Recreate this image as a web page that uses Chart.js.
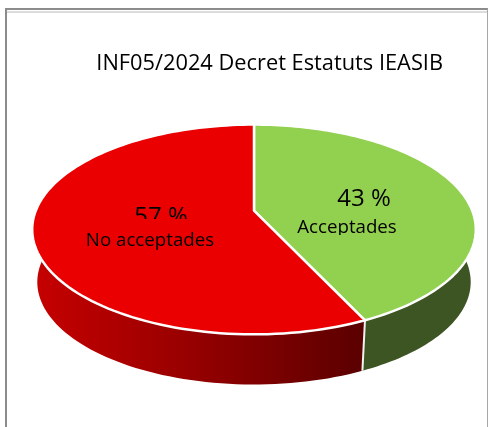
<!DOCTYPE html>
<html lang="ca">
<head>
    <meta charset="UTF-8">
    <title>INF05/2024 Decret Estatuts IEASIB</title>
    <script src="https://cdn.jsdelivr.net/npm/chart.js"></script>
    <style>
        html, body { margin: 0; padding: 0; background: #ffffff; overflow: hidden; }
        #wrap { position: relative; width: 489px; height: 427px; overflow: hidden; }
        #frame {
            position: absolute; left: 5px; top: 8px; width: 480px; height: 600px;
            border-left: 2px solid #8c8c8c; border-top: 2px solid #8c8c8c; border-right: 1px solid #a8a8a8;
        }
        #frame div { height: 2px; margin-top: 1px; background: #dcdcdc; }
        canvas { position: absolute; left: 0; top: 0; }
    </style>
</head>
<body>
    <div id="wrap">
        <div id="frame"><div></div></div>
        <canvas id="pie" width="489" height="427"></canvas>
    </div>

    <script>
        const titleText = 'INF05/2024 Decret Estatuts IEASIB';
        const categories = ['Acceptades', 'No acceptades'];
        const values = [43, 57];
        const topColors = ['#92d050', '#ea0000'];

        // the library lays out a round pie, this bends it into the tilted 3D view
        const view = { sx: 2.44, sy: 1.135, k: 0.18 };
        const wall = { drop: 53, shrink: 0.977 };

        // label placement, text is clipped at the bottom like the original
        const labelPos = [
            { pctX: 364, pctY: 199, pctClip: 240, nameX: 347, nameY: 228, nameClip: 235 },
            { pctX: 161, pctY: 217, pctClip: 219, nameX: 150, nameY: 241, nameClip: 260 }
        ];

        function project(arc, angle, depth) {
            const u = Math.cos(angle), v = Math.sin(angle);
            const w = 1 - view.k * v;
            const s = depth ? wall.shrink : 1;
            return {
                x: arc.x + arc.outerRadius * view.sx * s * u / w,
                y: arc.y + (depth ? wall.drop : 0) + arc.outerRadius * view.sy * s * v / w
            };
        }

        function rim(ctx, arc, from, to, depth, first) {
            const steps = 120;
            for (let i = 0; i <= steps; i++) {
                const p = project(arc, from + (to - from) * i / steps, depth);
                if (i === 0 && first) ctx.moveTo(p.x, p.y); else ctx.lineTo(p.x, p.y);
            }
        }

        const pie3d = {
            id: 'pie3d',
            beforeDatasetDraw(chart, args) {
                const ctx = chart.ctx;
                const arcs = args.meta.data;
                ctx.save();

                // side wall first, the top covers the back part of it
                arcs.forEach((arc, i) => {
                    ctx.beginPath();
                    rim(ctx, arc, arc.startAngle, arc.endAngle, false, true);
                    rim(ctx, arc, arc.endAngle, arc.startAngle, true, false);
                    ctx.closePath();
                    if (i === 0) {
                        ctx.fillStyle = '#3d5423';
                    } else {
                        const g = ctx.createLinearGradient(40, 0, 365, 0);
                        g.addColorStop(0, '#c40000');
                        g.addColorStop(0.45, '#980000');
                        g.addColorStop(1, '#5a0000');
                        ctx.fillStyle = g;
                    }
                    ctx.fill();
                });

                // white edge between the two walls
                const seam = arcs[0].endAngle;
                const a = project(arcs[0], seam, false), b = project(arcs[0], seam, true);
                ctx.strokeStyle = '#f2f2f2';
                ctx.lineWidth = 2;
                ctx.beginPath();
                ctx.moveTo(a.x, a.y);
                ctx.lineTo(b.x, b.y);
                ctx.stroke();

                // top surface
                arcs.forEach((arc, i) => {
                    ctx.beginPath();
                    ctx.moveTo(arc.x, arc.y);
                    rim(ctx, arc, arc.startAngle, arc.endAngle, false, false);
                    ctx.closePath();
                    ctx.fillStyle = topColors[i];
                    ctx.fill();
                    ctx.strokeStyle = '#ffffff';
                    ctx.lineWidth = 2.5;
                    ctx.lineJoin = 'round';
                    ctx.stroke();
                });

                ctx.restore();
                return false;
            },
            afterDatasetsDraw(chart) {
                const ctx = chart.ctx;
                ctx.save();
                ctx.textAlign = 'center';
                ctx.textBaseline = 'middle';
                ctx.fillStyle = '#000000';
                categories.forEach((name, i) => {
                    const pos = labelPos[i];
                    ctx.save();
                    ctx.beginPath();
                    ctx.rect(0, 0, 489, pos.pctClip);
                    ctx.clip();
                    ctx.font = '24px "Open Sans"';
                    ctx.fillText(values[i] + ' %', pos.pctX, pos.pctY);
                    ctx.restore();

                    ctx.save();
                    ctx.beginPath();
                    ctx.rect(0, 0, 489, pos.nameClip);
                    ctx.clip();
                    ctx.font = '18.7px "Open Sans"';
                    ctx.fillText(name, pos.nameX, pos.nameY);
                    ctx.restore();
                });
                ctx.restore();
            }
        };

        new Chart(document.getElementById('pie'), {
            type: 'pie',
            data: {
                labels: categories,
                datasets: [{ data: values, backgroundColor: topColors, borderWidth: 0 }]
            },
            options: {
                responsive: false,
                animation: false,
                layout: { padding: { left: 65, right: 46, top: 51, bottom: 127 } },
                plugins: {
                    legend: { display: false },
                    tooltip: { enabled: false },
                    title: {
                        display: true,
                        text: titleText,
                        align: 'end',
                        color: '#000000',
                        font: { family: '"Open Sans"', size: 21.8, weight: 'normal' },
                        padding: { top: 0, bottom: 44 }
                    }
                }
            },
            plugins: [pie3d]
        });
    </script>
</body>
</html>
